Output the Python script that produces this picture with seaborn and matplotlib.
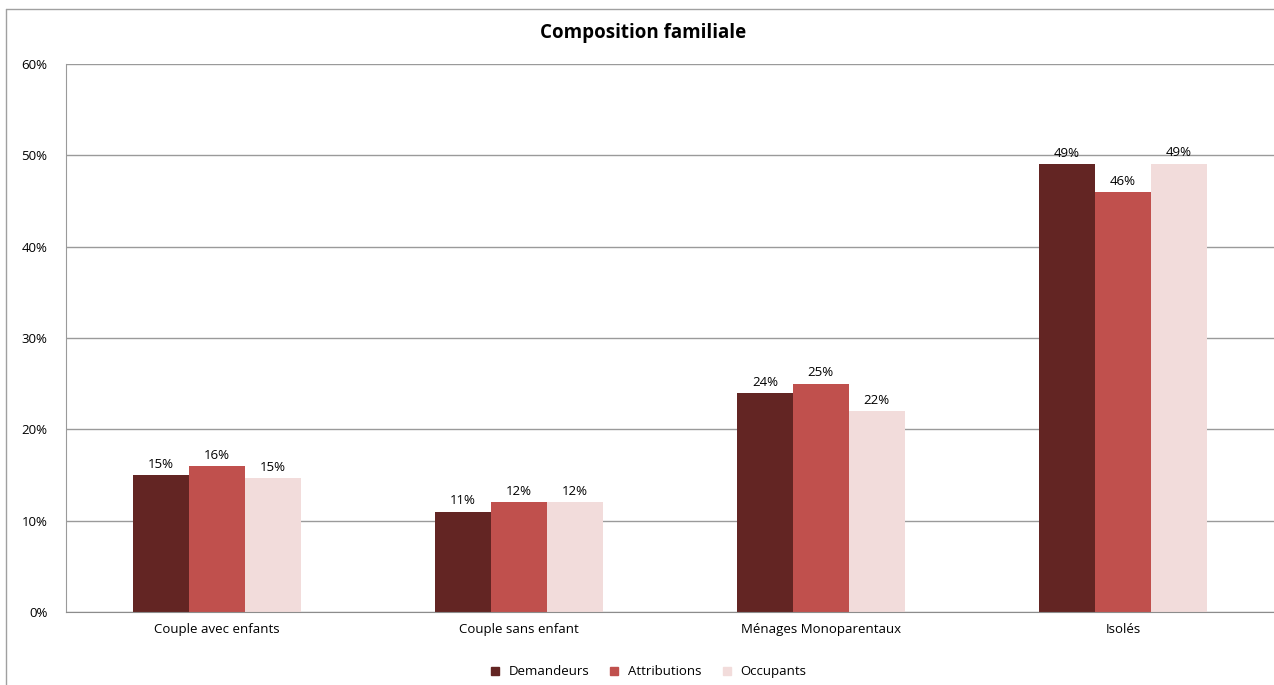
import pandas as pd
import matplotlib.pyplot as plt
import seaborn as sns
from matplotlib.lines import Line2D

categories = ['Couple avec enfants', 'Couple sans enfant', 'Ménages Monoparentaux', 'Isolés']
series = ['Demandeurs', 'Attributions', 'Occupants']
demandeurs = [15.0, 11.0, 24.0, 49.0]
attributions = [16.0, 12.0, 25.0, 46.0]
occupants = [14.7, 12.0, 22.0, 49.1]
colors = ['#632523', '#C0504D', '#F2DCDB']

df = pd.DataFrame({
    'cat': categories * 3,
    'serie': [s for s in series for _ in categories],
    'val': demandeurs + attributions + occupants,
})

sns.set_style('white')
plt.rcParams['font.family'] = ['Open Sans', 'DejaVu Sans']
plt.rcParams['text.color'] = 'black'
plt.rcParams['xtick.color'] = 'black'
plt.rcParams['ytick.color'] = 'black'

fig = plt.figure(figsize=(12.74, 6.85), dpi=100)
ax = fig.add_axes([0.0515, 0.1066, 0.9485, 0.8])

sns.barplot(data=df, x='cat', y='val', hue='serie', order=categories,
            hue_order=series, palette=colors, width=0.556, saturation=1,
            linewidth=0, ax=ax, legend=False)

for cont in ax.containers:
    ax.bar_label(cont, labels=[f'{v:.0f}%' for v in cont.datavalues],
                 padding=3, fontsize=9.5, color='black')

ax.set_ylim(0, 60)
ax.set_yticks(range(0, 61, 10))
ax.set_yticklabels([f'{t}%' for t in range(0, 61, 10)], fontsize=9.5)
ax.tick_params(axis='x', labelsize=9.5, length=0, pad=8)
ax.tick_params(axis='y', length=0, pad=13)
ax.set_xlabel('')
ax.set_ylabel('')
ax.set_xlim(-0.5, 3.5)
ax.yaxis.grid(True, color='#9a9a9a', linewidth=1)
ax.set_axisbelow(True)
for s in ['top', 'right']:
    ax.spines[s].set_visible(False)
ax.spines['left'].set_color('#9a9a9a')
ax.spines['bottom'].set_color('#8c8c8c')

fig.text(643 / 1274, 1 - 33 / 685, 'Composition familiale', fontsize=13.5,
         fontweight='bold', ha='center', va='center')

handles = [Line2D([], [], marker='s', linestyle='', markersize=6,
                  markerfacecolor=c, markeredgecolor=c) for c in colors]
fig.legend(handles, series, loc='center', bbox_to_anchor=(644 / 1274, 0.019),
           ncol=3, frameon=False, fontsize=9.5, handletextpad=0.05,
           columnspacing=0.9)

# outer chart border (left and top)
fig.add_artist(Line2D([6 / 1274, 6 / 1274], [0, 1 - 9 / 685], transform=fig.transFigure,
                      color='#a0a0a0', linewidth=1))
fig.add_artist(Line2D([6 / 1274, 1], [1 - 9 / 685, 1 - 9 / 685], transform=fig.transFigure,
                      color='#a0a0a0', linewidth=1))

fig.savefig('out.png', dpi=100)
